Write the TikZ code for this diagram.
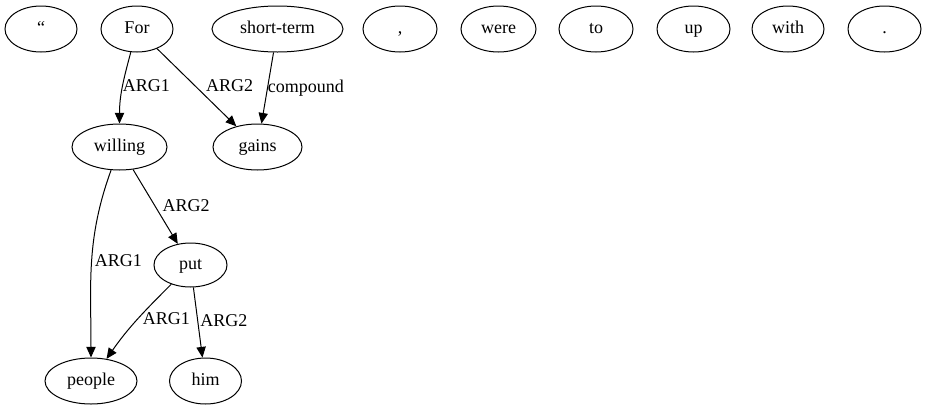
\documentclass[tikz,border=0pt]{standalone}
\usepackage{fontspec}
\setmainfont{Liberation Serif}
\usepackage{tikz}
\usetikzlibrary{shapes,arrows.meta,positioning}

\tikzset{
  tok/.style={draw, ellipse, line width=0.75pt, inner sep=0pt, minimum width=72*0.75pt, minimum height=46*0.75pt, text height=8.5pt, text depth=2pt, font=\fontsize{13.5}{15}\selectfont},
  lbl/.style={inner sep=0pt, anchor=west, text height=8.5pt, text depth=2pt, font=\fontsize{13.5}{15}\selectfont},
  arc/.style={line width=0.75pt, -{Triangle[length=8pt,width=7pt]}}
}

\begin{document}
\begin{tikzpicture}[x=0.75pt, y=0.75pt]
\useasboundingbox (0,0) rectangle (925,-411);

% top row
\node[tok] (quote) at (41,-29) {``};
\node[tok] (For) at (137,-29) {For};
\node[tok, minimum width=131*0.75pt] (short) at (277.5,-29) {short-term};
\node[tok, minimum width=74*0.75pt] (comma) at (400,-29) {,};
\node[tok, minimum width=75*0.75pt] (were) at (498.5,-29) {were};
\node[tok, minimum width=74*0.75pt] (to) at (596,-29) {to};
\node[tok, minimum width=73*0.75pt] (up) at (693.5,-29) {up};
\node[tok] (with) at (788,-29) {with};
\node[tok, minimum width=73*0.75pt] (dot) at (884.5,-29) {.};

% second row
\node[tok, minimum width=95*0.75pt] (willing) at (119.5,-147) {willing};
\node[tok, minimum width=89*0.75pt] (gains) at (257.5,-147) {gains};

\node[tok, minimum width=73*0.75pt, minimum height=44*0.75pt] (put) at (190.5,-265) {put};

% bottom row
\node[tok, minimum width=92*0.75pt] (people) at (91,-381) {people};
\node[tok] (him) at (205.5,-381) {him};

% edges
\draw[arc] (For) to[out=-105, in=90] node[lbl, pos=0.5] (l1) {ARG1} (willing);
\draw[arc] (For) -- node[lbl, pos=0.5, xshift=6.75pt] (l2) {ARG2} (gains);
\draw[arc] (short) -- node[lbl, pos=0.5] (l3) {compound} (gains);
\draw[arc] (willing) -- node[lbl, pos=0.5, xshift=5pt] (l4) {ARG2} (put);
\draw[arc] (willing) to[out=-110, in=90] node[lbl, pos=0.5, xshift=2pt] (l5) {ARG1} (people);
\draw[arc] (put) to[out=-135, in=55] node[lbl, pos=0.5, xshift=4pt] (l6) {ARG1} (people);
\draw[arc] (put) -- node[lbl, pos=0.5, xshift=1.5pt] (l7) {ARG2} (him);
\end{tikzpicture}
\end{document}
